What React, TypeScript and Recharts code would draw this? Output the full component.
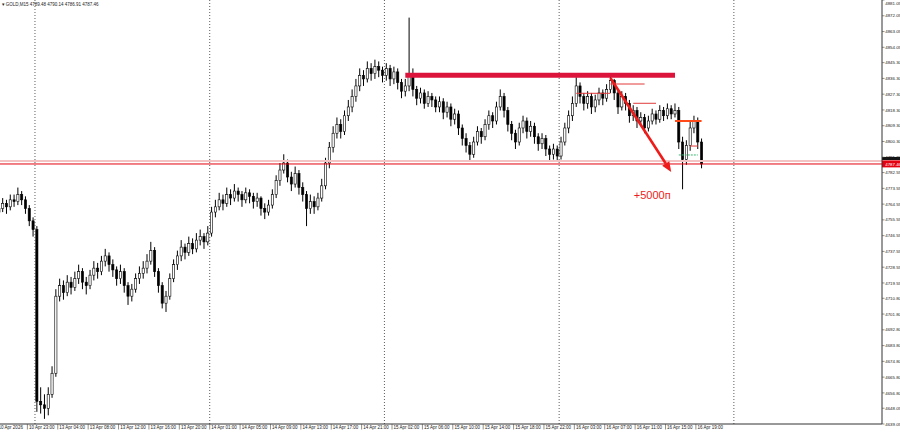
import React from 'react';
import { ComposedChart, Bar, XAxis, YAxis, ReferenceLine, ReferenceDot } from 'recharts';

// ---- data (30-minute candles) ----
const opens = [
  4760,4762,4765,4763,4767,4766,4770,4767,4762,4755,
  4750,4652,4650,4648,4656,4668,4712,4718,4714,4720,
  4717,4722,4726,4720,4718,4724,4728,4726,4732,4735,
  4730,4727,4722,4726,4718,4712,4716,4722,4725,4728,
  4732,4738,4726,4718,4708,4712,4722,4730,4735,4740,
  4737,4742,4739,4744,4746,4743,4748,4760,4763,4767,
  4765,4770,4768,4772,4770,4767,4771,4769,4766,4768,
  4762,4760,4764,4770,4778,4784,4788,4780,4776,4782,
  4774,4770,4762,4766,4763,4768,4775,4788,4797,4805,
  4810,4806,4815,4820,4826,4832,4838,4836,4842,4839,
  4843,4841,4838,4842,4836,4840,4834,4829,4832,4838,
  4830,4825,4828,4822,4826,4824,4820,4823,4817,4820,
  4813,4816,4808,4802,4798,4793,4800,4806,4803,4810,
  4815,4812,4820,4826,4818,4810,4805,4800,4808,4812,
  4806,4809,4803,4799,4802,4796,4793,4796,4792,4800,
  4808,4815,4822,4832,4826,4822,4826,4820,4824,4828,
  4825,4830,4835,4828,4820,4826,4822,4815,4818,4812,
  4814,4808,4812,4816,4813,4818,4815,4819,4816,4818,
  4800,4790,4798,4808,4812,4800,
];
const highs = [
  4765,4768,4767,4770,4770,4774,4772,4769,4764,4757,
  4752,4660,4656,4660,4672,4716,4722,4721,4724,4723,
  4726,4730,4728,4723,4727,4732,4731,4735,4739,4737,
  4733,4729,4730,4728,4720,4719,4725,4729,4732,4736,
  4743,4740,4728,4720,4715,4725,4733,4738,4744,4742,
  4746,4745,4748,4750,4748,4752,4763,4767,4771,4770,
  4774,4773,4776,4774,4772,4774,4773,4771,4771,4769,
  4765,4767,4773,4781,4788,4793,4790,4783,4786,4784,
  4777,4772,4770,4769,4771,4779,4791,4800,4809,4814,
  4813,4818,4824,4830,4836,4842,4841,4846,4845,4847,
  4846,4843,4845,4844,4843,4842,4836,4836,4871,4842,
  4832,4831,4830,4829,4828,4826,4826,4825,4823,4822,
  4819,4818,4810,4805,4800,4803,4809,4808,4813,4818,
  4817,4823,4830,4828,4820,4812,4807,4811,4815,4814,
  4812,4811,4805,4805,4804,4798,4799,4798,4803,4811,
  4818,4826,4837,4834,4828,4829,4828,4827,4831,4830,
  4833,4838,4836,4830,4829,4828,4824,4821,4820,4817,
  4816,4815,4819,4818,4821,4820,4822,4821,4822,4820,
  4803,4801,4812,4815,4814,4802,
];
const lows = [
  4757,4760,4759,4761,4763,4764,4764,4759,4752,4746,
  4646,4645,4642,4644,4654,4666,4709,4710,4712,4713,
  4715,4719,4716,4713,4716,4721,4722,4724,4729,4726,
  4723,4718,4719,4714,4707,4709,4714,4719,4722,4725,
  4730,4723,4714,4705,4703,4710,4720,4727,4732,4733,
  4735,4736,4737,4741,4739,4741,4746,4757,4761,4761,
  4763,4764,4766,4766,4763,4765,4765,4762,4763,4758,
  4756,4758,4762,4768,4775,4782,4777,4772,4774,4770,
  4766,4752,4759,4759,4761,4766,4773,4785,4794,4802,
  4802,4804,4812,4817,4823,4829,4832,4834,4835,4836,
  4837,4834,4835,4832,4833,4830,4825,4826,4829,4826,
  4821,4822,4819,4820,4820,4817,4817,4813,4814,4809,
  4810,4804,4798,4794,4789,4791,4798,4799,4801,4807,
  4808,4810,4818,4814,4806,4801,4796,4798,4805,4802,
  4803,4799,4795,4796,4792,4789,4790,4789,4790,4798,
  4805,4812,4820,4822,4818,4819,4816,4817,4821,4821,
  4823,4828,4824,4816,4818,4818,4811,4812,4808,4809,
  4805,4806,4810,4810,4811,4812,4813,4813,4814,4796,
  4773,4787,4795,4805,4796,4785,
];
const closes = [
  4762,4765,4763,4767,4766,4770,4767,4762,4755,4750,
  4652,4650,4648,4656,4668,4712,4718,4714,4720,4717,
  4722,4726,4720,4718,4724,4728,4726,4732,4735,4730,
  4727,4722,4726,4718,4712,4716,4722,4725,4728,4732,
  4738,4726,4718,4708,4712,4722,4730,4735,4740,4737,
  4742,4739,4744,4746,4743,4748,4760,4763,4767,4765,
  4770,4768,4772,4770,4767,4771,4769,4766,4768,4762,
  4760,4764,4770,4778,4784,4788,4780,4776,4782,4774,
  4770,4762,4766,4763,4768,4775,4788,4797,4805,4810,
  4806,4815,4820,4826,4832,4838,4836,4842,4839,4843,
  4841,4838,4842,4836,4840,4834,4829,4832,4838,4830,
  4825,4828,4822,4826,4824,4820,4823,4817,4820,4813,
  4816,4808,4802,4798,4793,4800,4806,4803,4810,4815,
  4812,4820,4826,4818,4810,4805,4800,4808,4812,4806,
  4809,4803,4799,4802,4796,4793,4796,4792,4800,4808,
  4815,4822,4832,4826,4822,4826,4820,4824,4828,4825,
  4830,4835,4828,4820,4826,4822,4815,4818,4812,4814,
  4808,4812,4816,4813,4818,4815,4819,4816,4818,4800,
  4790,4798,4808,4812,4800,4787.46,
];

const TOTAL_SLOTS = 233;
const timeTickSlots = [0, 8, 16, 24, 32, 40, 48, 56, 64, 72, 80, 88, 96, 104, 112, 120, 128, 136, 144, 152, 160, 168, 176, 184];
const timeTickLabels = [
  '10 Apr 2026', '10 Apr 23:00', '13 Apr 04:00', '13 Apr 08:00', '13 Apr 12:00', '13 Apr 16:00', '13 Apr 20:00',
  '14 Apr 01:00', '14 Apr 05:00', '14 Apr 09:00', '14 Apr 13:00', '14 Apr 17:00', '14 Apr 21:00',
  '15 Apr 02:00', '15 Apr 06:00', '15 Apr 10:00', '15 Apr 14:00', '15 Apr 18:00', '15 Apr 22:00',
  '16 Apr 03:00', '16 Apr 07:00', '16 Apr 11:00', '16 Apr 15:00', '16 Apr 19:00',
];
const priceTicks = [
  4639.05, 4648.05, 4656.80, 4665.80, 4674.80, 4683.80, 4692.80, 4701.80, 4710.80, 4719.55,
  4728.55, 4737.55, 4746.55, 4755.55, 4764.55, 4773.55, 4782.55, 4791.30, 4800.30, 4809.30,
  4818.30, 4827.30, 4836.30, 4845.30, 4854.05, 4863.05, 4872.05, 4881.05,
];
const daySeparatorSlots = [10, 56, 102, 148, 194];
const lastPrice = 4787.46;
const askPrice = 4789.1;
const headerText = 'GOLD,M15 4789.48 4790.14 4786.91 4787.46';

// drawn objects on the chart: slot range and price
const resistanceZone = { from: 107, to: 178, price: 4838.1 };
const levelLines = [
  { from: 152, to: 161, price: 4827.8, color: '#e23b3b', width: 1 },
  { from: 161, to: 170, price: 4833.1, color: '#e23b3b', width: 1 },
  { from: 167, to: 173, price: 4822.1, color: '#e23b3b', width: 1 },
  { from: 178, to: 185, price: 4812.0, color: '#ff4a1a', width: 2 },
  { from: 182, to: 184, price: 4797.7, color: '#e23b3b', width: 1 },
];
const greenLine = { from: 179, to: 184, price: 4792.6 };
const arrowFrom = { slot: 161, price: 4836.5 };
const arrowTo = { slot: 177, price: 4782.9 };
const profitLabel = { slot: 172, price: 4769.8, text: '+5000п' };

const rows = Array.from({ length: TOTAL_SLOTS }, (_, i) =>
  i < closes.length
    ? { slot: i, range: [lows[i], highs[i]], o: opens[i], h: highs[i], l: lows[i], c: closes[i] }
    : { slot: i, range: null }
);

const FONT = '"Liberation Sans", Arial, sans-serif';
const HALF_SLOT = 1.9;

const Candle = (props: any) => {
  const { x, y, width, height, payload } = props;
  if (!payload || payload.range == null || y == null) return null;
  const { o, h, l, c } = payload;
  const top = Math.min(y, y + height);
  const span = Math.abs(height);
  const py = (p: number) => (h === l ? top : top + ((h - p) / (h - l)) * span);
  const cx = x + width / 2;
  const bt = py(Math.max(o, c));
  const bb = py(Math.min(o, c));
  const bw = 2.2;
  const bull = c >= o;
  return (
    <g>
      <line x1={cx} x2={cx} y1={top} y2={top + span} stroke="#000" strokeWidth={1} />
      <rect x={cx - bw / 2} y={bt} width={bw} height={Math.max(0.8, bb - bt)} fill={bull ? '#fff' : '#000'} stroke="#000" strokeWidth={0.6} />
    </g>
  );
};

const TimeTick = (props: any) => {
  const { x, y, payload } = props;
  const idx = timeTickSlots.indexOf(payload.value);
  if (idx < 0) return null;
  const lx = x - HALF_SLOT;
  return (
    <g>
      <line x1={lx} x2={lx} y1={y} y2={y + 5.5} stroke="#444" strokeWidth={0.6} />
      <text x={lx + 1.6} y={y + 5.4} fontSize={4.5} fill="#222" fontFamily={FONT}>{timeTickLabels[idx]}</text>
    </g>
  );
};

const PriceTick = (props: any) => {
  const { x, y, payload } = props;
  const v = Number(payload.value);
  const ty = Math.max(y + 1.6, 4.6);
  return (
    <g>
      <line x1={x} x2={x + 2.5} y1={y} y2={y} stroke="#444" strokeWidth={0.6} />
      <text x={x + 3.2} y={ty} fontSize={4.4} fill="#222" fontFamily={FONT}>{v.toFixed(2)}</text>
    </g>
  );
};

const Arrow = (props: any) => {
  const { x1, y1, x2, y2 } = props;
  if (x1 == null) return null;
  const dx = x2 - x1;
  const dy = y2 - y1;
  const len = Math.sqrt(dx * dx + dy * dy) || 1;
  const ux = dx / len;
  const uy = dy / len;
  const hl = 10;
  const hw = 4.2;
  const bx = x2 - ux * hl;
  const by = y2 - uy * hl;
  return (
    <g>
      <line x1={x1} y1={y1} x2={bx} y2={by} stroke="#ee1b1b" strokeWidth={2.6} />
      <polygon points={`${x2},${y2} ${bx - uy * hw},${by + ux * hw} ${bx + uy * hw},${by - ux * hw}`} fill="#ee1b1b" />
    </g>
  );
};

const PriceBadge = (props: any) => {
  const vb = props.viewBox;
  if (!vb) return null;
  const rx = vb.x + vb.width;
  const yy = vb.y;
  return (
    <g>
      <rect x={rx} y={yy - 7} width={18} height={3} fill="#111" />
      <rect x={rx} y={yy - 3.6} width={18} height={7} fill="#e3000f" />
      <text x={rx + 3.2} y={yy + 1.6} fontSize={4.4} fill="#fff" fontFamily={FONT}>{lastPrice.toFixed(2)}</text>
    </g>
  );
};

export default function App() {
  return (
    <div style={{ position: 'absolute', left: 0, top: 0, width: 900, height: 435, background: '#fff' }}>
      <ComposedChart width={900} height={435} data={rows} margin={{ top: 0, right: 0, bottom: 0, left: -3 }}>
        <XAxis
          dataKey="slot"
          type="category"
          ticks={timeTickSlots}
          interval={0}
          tickLine={false}
          tickSize={0}
          tickMargin={0}
          height={11}
          axisLine={{ stroke: '#333', strokeWidth: 1 }}
          tick={<TimeTick />}
        />
        <YAxis
          orientation="right"
          type="number"
          domain={[4639.05, 4881.05]}
          ticks={priceTicks}
          interval={0}
          allowDataOverflow
          width={18}
          tickLine={false}
          tickSize={0}
          tickMargin={0}
          axisLine={{ stroke: '#333', strokeWidth: 1 }}
          tick={<PriceTick />}
        />
        {daySeparatorSlots.map((s) => (
          <ReferenceLine key={'d' + s} x={s} position="start" stroke="#333" strokeWidth={0.8} strokeDasharray="1 2" />
        ))}
        <ReferenceLine y={askPrice} stroke="#f3c2c2" strokeWidth={2} />
        <ReferenceLine y={lastPrice} stroke="#e3000f" strokeWidth={1} label={PriceBadge} />
        <Bar dataKey="range" shape={<Candle />} isAnimationActive={false} />
        <ReferenceLine
          segment={[{ x: resistanceZone.from, y: resistanceZone.price }, { x: resistanceZone.to, y: resistanceZone.price }]}
          stroke="#dc143c"
          strokeWidth={5}
          ifOverflow="visible"
        />
        {levelLines.map((lv, i) => (
          <ReferenceLine
            key={'lv' + i}
            segment={[{ x: lv.from, y: lv.price }, { x: lv.to, y: lv.price }]}
            stroke={lv.color}
            strokeWidth={lv.width}
            ifOverflow="visible"
          />
        ))}
        <ReferenceLine
          segment={[{ x: greenLine.from, y: greenLine.price }, { x: greenLine.to, y: greenLine.price }]}
          stroke="#3cb371"
          strokeWidth={1}
          strokeDasharray="2 1"
          ifOverflow="visible"
        />
        <ReferenceLine
          segment={[{ x: arrowFrom.slot, y: arrowFrom.price }, { x: arrowTo.slot, y: arrowTo.price }]}
          shape={Arrow}
          ifOverflow="visible"
        />
        <ReferenceDot
          x={profitLabel.slot}
          y={profitLabel.price}
          r={0}
          ifOverflow="visible"
          shape={(p: any) => (
            <text x={p.cx} y={p.cy + 4} textAnchor="middle" fontSize={11} fill="#ee1b1b" fontFamily={FONT}>
              {profitLabel.text}
            </text>
          )}
        />
      </ComposedChart>
      <svg width={900} height={10} style={{ position: 'absolute', left: 0, top: 0, pointerEvents: 'none' }}>
        <text x={1.5} y={5.5} fontSize={4.5} fill="#222" fontFamily={FONT}>{'▾ ' + headerText}</text>
      </svg>
    </div>
  );
}
